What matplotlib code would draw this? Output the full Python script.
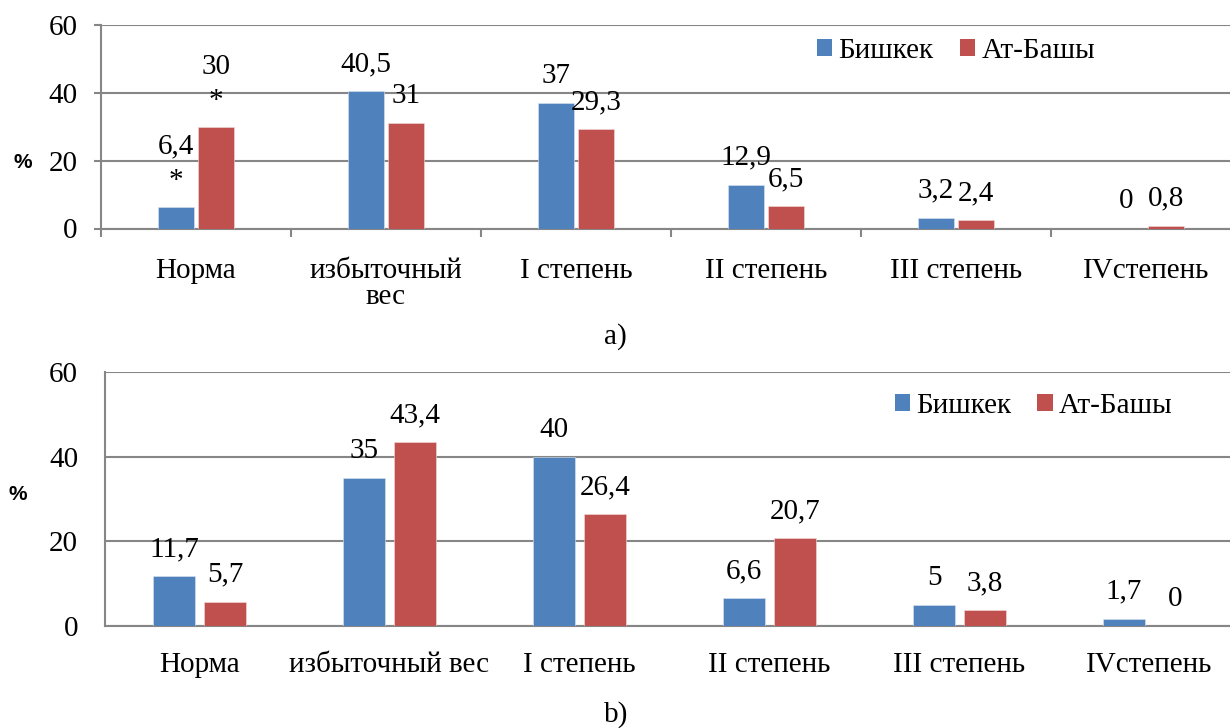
import matplotlib.pyplot as plt
import numpy as np
from matplotlib.patches import Patch

plt.rcParams['font.family'] = ['Liberation Serif', 'DejaVu Serif']

# categories and values for the two panels
categories_a = ["Норма", "избыточный\nвес", "I степень", "II степень", "III степень", "IVстепень"]
categories_b = ["Норма", "избыточный вес", "I степень", "II степень", "III степень", "IVстепень"]
series_names = ["Бишкек", "Ат-Башы"]

bishkek_a = [6.4, 40.5, 37, 12.9, 3.2, 0]
atbashy_a = [30, 31, 29.3, 6.5, 2.4, 0.8]

bishkek_b = [11.7, 35, 40, 6.6, 5, 1.7]
atbashy_b = [5.7, 43.4, 26.4, 20.7, 3.8, 0]

# categories marked with an asterisk in panel a)
starred_a = [0]

BLUE = "#4F81BD"
RED = "#C0504D"
GRID = "#868686"
FS = 21


def fmt(v):
    s = ("%g" % v)
    return s.replace(".", ",")


def draw_panel(ax, cats, s1, s2, width, offset, with_ticks, stars=()):
    x = np.arange(len(cats))
    b1 = ax.bar(x - offset, s1, width, color=BLUE, edgecolor="#DCE6F2", linewidth=0.4, zorder=3)
    b2 = ax.bar(x + offset, s2, width, color=RED, edgecolor="#F2DCDB", linewidth=0.4, zorder=3)

    ax.set_xlim(-0.5, len(cats) - 0.5)
    ax.set_ylim(0, 60)
    ax.set_yticks([0, 20, 40, 60])
    ax.yaxis.grid(True, color=GRID, linewidth=1.5, zorder=0)
    ax.set_axisbelow(True)

    for side in ["top", "right"]:
        ax.spines[side].set_visible(False)
    for side in ["left", "bottom"]:
        ax.spines[side].set_color(GRID)
        ax.spines[side].set_linewidth(1.5)

    ax.set_xticks(x)
    ax.set_xticklabels(cats, fontsize=FS, linespacing=1.0)
    if with_ticks:
        ax.set_xticks(np.arange(len(cats) + 1) - 0.5, minor=True)
        ax.tick_params(axis="x", which="minor", length=6, width=1.5, color=GRID, direction="out")
        ax.tick_params(axis="x", which="major", length=0, pad=21)
        ax.tick_params(axis="y", length=5, width=1.5, color=GRID, pad=12, labelsize=FS)
    else:
        ax.tick_params(axis="x", which="major", length=0, pad=19)
        ax.tick_params(axis="y", length=0, pad=19, labelsize=FS)

    for bars, vals in ((b1, s1), (b2, s2)):
        for i, (rect, v) in enumerate(zip(bars, vals)):
            cx = rect.get_x() + rect.get_width() / 2
            lift = 27
            if i in stars:
                ax.annotate("*", (cx, v), xytext=(0, 26), textcoords="offset pixels",
                            ha="center", va="center", fontsize=FS)
                lift = 60
            ax.annotate(fmt(v), (cx, v), xytext=(0, lift), textcoords="offset pixels",
                        ha="center", va="center", fontsize=FS)


fig = plt.figure(figsize=(12.3, 7.28), dpi=100)

ax_a = fig.add_axes([101 / 1230, 1 - 228.5 / 728, 1140 / 1230, 203.5 / 728])
draw_panel(ax_a, categories_a, bishkek_a, atbashy_a, 0.192, 0.106, True, starred_a)

ax_b = fig.add_axes([104.5 / 1230, 1 - 626 / 728, 1140 / 1230, 254 / 728])
draw_panel(ax_b, categories_b, bishkek_b, atbashy_b, 0.221, 0.134, False)

handles = [Patch(facecolor=BLUE), Patch(facecolor=RED)]
leg_kw = dict(ncol=2, frameon=False, fontsize=FS, handlelength=0.52, handleheight=0.52,
              handletextpad=0.22, columnspacing=0.9, borderpad=0, borderaxespad=0,
              loc="center left")
ax_a.legend(handles, series_names, bbox_to_anchor=(0.628, 0.872), **leg_kw)
ax_b.legend(handles, series_names, bbox_to_anchor=(0.693, 0.866), **leg_kw)

fig.text(23 / 1230, 1 - 162 / 728, "%", fontsize=15, fontweight="bold",
         family="Liberation Sans", ha="center", va="center")
fig.text(18 / 1230, 1 - 495 / 728, "%", fontsize=15, fontweight="bold",
         family="Liberation Sans", ha="center", va="center")

fig.text(615 / 1230, 1 - 337 / 728, "a)", fontsize=FS, ha="center", va="center")
fig.text(616 / 1230, 1 - 715 / 728, "b)", fontsize=FS, ha="center", va="center")

fig.savefig("out.png", dpi=100)
